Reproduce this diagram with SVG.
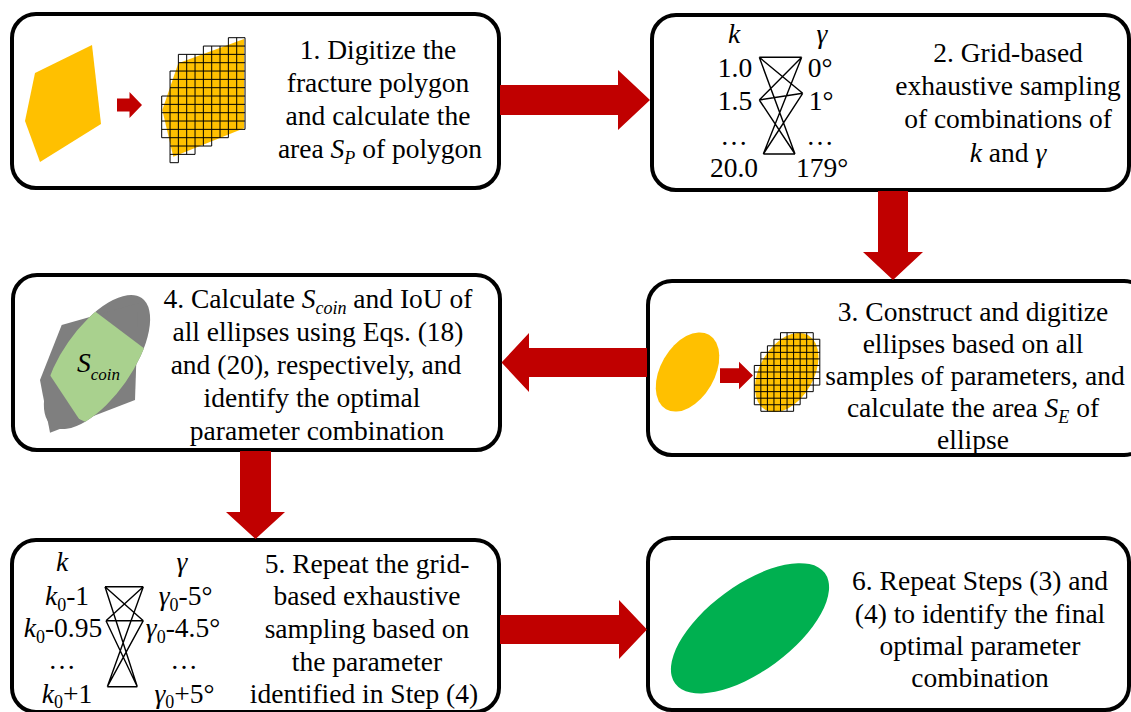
<svg xmlns="http://www.w3.org/2000/svg" width="1131" height="712" viewBox="0 0 1131 712">
<style>
.box{fill:#fff;stroke:#000;stroke-width:4}
.t{font-family:"Liberation Serif","Times New Roman",serif;font-size:27.5px;fill:#000;text-anchor:middle}
.i{font-style:italic}
.sub{font-size:18px}
.arr{fill:#C00000}
.grid{fill:none;stroke:#000;stroke-width:1;vector-effect:non-scaling-stroke}
.ln{stroke:#000;stroke-width:1.4;fill:none}
.yel{fill:#FFC000}
</style>
<defs>
<clipPath id="cp4"><polygon points="61.7,325 138.3,303.3 135,400 50,432.7 40,380"/></clipPath>
</defs>
<rect x="0" y="0" width="1131" height="712" fill="#fff"/>

<g id="node1">
<rect class="box" x="12" y="14" width="487" height="174" rx="24"/>
<polygon class="yel" points="35,73 92,45 101,124 40,162 25,121"/>
<path class="arr" d="M117 98.5H129.5V92L142 105L129.5 118V111.5H117Z"/>
<polygon class="yel" points="178.3,63.3 244,39 244,128.3 173.3,156.7 162.3,110"/>
<path class="grid" transform="translate(161.7,37.7) scale(8.333)" d="M8 0H10M5 1H10M2 2H10M2 3H10M1 4H10M1 5H10M1 6H10M0 7H10M0 8H10M0 9H10M0 10H10M0 11H10M0 12H8M1 13H6M1 14H4M1 15H2M0 7V12M1 4V15M2 2V15M3 2V14M4 2V14M5 1V13M6 1V13M7 1V12M8 0V12M9 0V11M10 0V11"/>
<text class="t" x="378" y="58.5">1. Digitize the</text>
<text class="t" x="378" y="92">fracture polygon</text>
<text class="t" x="378" y="125">and calculate the</text>
<text class="t" x="380" y="158">area <tspan class="i">S</tspan><tspan class="i sub" dy="6">P</tspan><tspan dy="-6"> of polygon</tspan></text>
</g>

<g id="node2">
<rect class="box" x="652" y="15" width="477" height="175" rx="24"/>
<text class="t i" x="734" y="43">k</text>
<text class="t i" x="822" y="43">γ</text>
<text class="t" x="735" y="77">1.0</text>
<text class="t" x="820" y="77">0°</text>
<text class="t" x="735" y="110">1.5</text>
<text class="t" x="821" y="110">1°</text>
<text class="t" x="734" y="145">…</text>
<text class="t" x="820" y="145">…</text>
<text class="t" x="734" y="177">20.0</text>
<text class="t" x="822" y="177">179°</text>
<path class="ln" d="M759.3 57.3H801.7M763.3 154H795M759.3 100L802.7 93.3M759.3 57.3L802.7 93.3M759.3 57.3L795 154M759.3 100L801.7 57.3M759.3 100L795 154M763.3 154L801.7 57.3M763.3 154L802.7 93.3"/>
<text class="t" x="1008" y="62">2. Grid-based</text>
<text class="t" x="1008" y="95">exhaustive sampling</text>
<text class="t" x="1008" y="128">of combinations of</text>
<text class="t" x="1008" y="162"><tspan class="i">k</tspan> and <tspan class="i">γ</tspan></text>
</g>

<g id="node3">
<rect class="box" x="648" y="281" width="500" height="174" rx="24"/>
<ellipse class="yel" cx="687.5" cy="372" rx="27" ry="43" transform="rotate(30 687.5 372)"/>
<path class="arr" d="M720 368.3H739V361.7L753 375.5L739 389.3V383H720Z"/>
<ellipse class="yel" cx="786.7" cy="372.5" rx="27" ry="43" transform="rotate(30 786.7 372.5)"/>
<path class="grid" transform="translate(754.3,332.7) scale(6.55)" d="M4 0H9M3 1H10M2 2H10M1 3H10M1 4H10M0 5H10M0 6H10M0 7H10M0 8H10M0 9H9M0 10H8M0 11H7M1 12H6M0 5V11M1 3V12M2 2V12M3 1V12M4 0V12M5 0V12M6 0V12M7 0V11M8 0V10M9 0V9M10 1V8"/>
<text class="t" x="973" y="321">3. Construct and digitize</text>
<text class="t" x="973" y="353">ellipses based on all</text>
<text class="t" x="975" y="385">samples of parameters, and</text>
<text class="t" x="973" y="417">calculate the area <tspan class="i">S</tspan><tspan class="i sub" dy="6">E</tspan><tspan dy="-6"> of</tspan></text>
<text class="t" x="973" y="449">ellipse</text>
</g>

<g id="node4">
<rect class="box" x="13" y="275" width="487" height="175" rx="24"/>
<ellipse fill="#7F7F7F" cx="97" cy="362" rx="78" ry="35" transform="rotate(-55 97 362)"/>
<polygon fill="#7F7F7F" points="61.7,325 138.3,303.3 135,400 50,432.7 40,380"/>
<ellipse fill="#A9D18E" cx="97" cy="362" rx="78" ry="35" transform="rotate(-55 97 362)" clip-path="url(#cp4)"/>
<text class="t i" x="77" y="372" style="text-anchor:start">S<tspan font-size="17" dy="8">coin</tspan></text>
<text class="t" x="318" y="308">4. Calculate <tspan class="i">S</tspan><tspan class="i sub" dy="6">coin</tspan><tspan dy="-6"> and IoU of</tspan></text>
<text class="t" x="318" y="341">all ellipses using Eqs. (18)</text>
<text class="t" x="316" y="374">and (20), respectively, and</text>
<text class="t" x="312" y="407">identify the optimal</text>
<text class="t" x="317" y="440">parameter combination</text>
</g>

<g id="node5">
<rect class="box" x="12" y="540" width="487" height="172" rx="24"/>
<text class="t i" x="62" y="571">k</text>
<text class="t i" x="182" y="571">γ</text>
<text class="t" x="67" y="605"><tspan class="i">k</tspan><tspan class="sub" dy="6">0</tspan><tspan dy="-6">-1</tspan></text>
<text class="t" x="63" y="637" font-size="26.5"><tspan class="i">k</tspan><tspan class="sub" dy="6">0</tspan><tspan dy="-6">-0.95</tspan></text>
<text class="t" x="62" y="669">…</text>
<text class="t" x="67" y="703"><tspan class="i">k</tspan><tspan class="sub" dy="5">0</tspan><tspan dy="-5">+1</tspan></text>
<text class="t" x="185.5" y="605"><tspan class="i">γ</tspan><tspan class="sub" dy="6">0</tspan><tspan dy="-6">-5°</tspan></text>
<text class="t" x="183" y="637" font-size="26.5"><tspan class="i">γ</tspan><tspan class="sub" dy="6">0</tspan><tspan dy="-6">-4.5°</tspan></text>
<text class="t" x="184" y="669">…</text>
<text class="t" x="184.5" y="703"><tspan class="i">γ</tspan><tspan class="sub" dy="5">0</tspan><tspan dy="-5">+5°</tspan></text>
<path class="ln" d="M105 586.7H143.3M106 620.7H143.3M107.3 686.7H137.3M105 586.7L143.3 620.7M105 586.7L137.3 686.7M106 620.7L143.3 586.7M106 620.7L137.3 686.7M107.3 686.7L143.3 586.7M107.3 686.7L143.3 620.7"/>
<text class="t" x="367" y="573">5. Repeat the grid-</text>
<text class="t" x="367" y="605">based exhaustive</text>
<text class="t" x="367" y="638">sampling based on</text>
<text class="t" x="367" y="671">the parameter</text>
<text class="t" x="364" y="703">identified in Step (4)</text>
</g>

<g id="node6">
<rect class="box" x="648" y="538" width="481" height="172" rx="24"/>
<ellipse fill="#00B050" cx="750" cy="628.3" rx="93" ry="43" transform="rotate(-36.4 750 628.3)"/>
<text class="t" x="980" y="590">6. Repeat Steps (3) and</text>
<text class="t" x="980" y="623">(4) to identify the final</text>
<text class="t" x="980" y="655">optimal parameter</text>
<text class="t" x="980" y="687">combination</text>
</g>

<g id="connectors">
<path class="arr" d="M500 85H618V70L650 100L618 130V115H500Z"/>
<path class="arr" d="M878 191V252H863L893 280L923 252H908V191Z"/>
<path class="arr" d="M647 348H529V333L501.5 362.5L529 392V377H647Z"/>
<path class="arr" d="M240 451V512H226L255.5 539L285 512H271V451Z"/>
<path class="arr" d="M500 615H619V600L647 629.5L619 659V644H500Z"/>
</g>
</svg>
